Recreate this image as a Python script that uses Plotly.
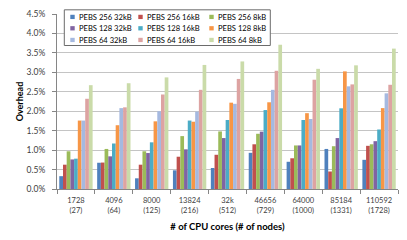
import plotly.graph_objects as go

cores = ["1728", "4096", "8000", "13824", "32k", "46656", "64000", "85184", "110592"]
nodes = ["27", "64", "125", "216", "512", "729", "1000", "1331", "1728"]
categories = [f"{c}<br>({n})" for c, n in zip(cores, nodes)]

series_names = [
    "PEBS 256 32kB", "PEBS 256 16kB", "PEBS 256 8kB",
    "PEBS 128 32kB", "PEBS 128 16kB", "PEBS 128 8kB",
    "PEBS 64 32kB", "PEBS 64 16kB", "PEBS 64 8kB",
]

# overhead in percent
pebs256_32 = [0.33, 0.675, 0.275, 0.48, 0.54, 0.93, 0.70, 1.03, 0.75]
pebs256_16 = [0.625, 0.68, 0.625, 0.83, 0.88, 1.15, 0.79, 0.45, 1.11]
pebs256_8 = [0.97, 1.03, 0.97, 1.36, 1.48, 1.42, 1.12, 1.10, 1.15]
pebs128_32 = [0.76, 0.84, 0.925, 1.02, 1.31, 1.475, 1.12, 1.31, 1.23]
pebs128_16 = [0.78, 1.17, 1.20, 1.76, 1.775, 2.03, 1.775, 2.075, 1.53]
pebs128_8 = [1.76, 1.64, 1.74, 1.73, 2.22, 2.23, 1.95, 3.025, 2.08]
pebs64_32 = [1.76, 2.08, 2.00, 1.99, 2.19, 2.55, 1.80, 2.64, 2.46]
pebs64_16 = [2.32, 2.10, 2.43, 2.55, 2.83, 3.04, 2.81, 2.69, 2.68]
pebs64_8 = [2.67, 2.72, 2.87, 3.19, 3.28, 3.71, 3.09, 3.18, 3.61]

series_values = [pebs256_32, pebs256_16, pebs256_8,
                 pebs128_32, pebs128_16, pebs128_8,
                 pebs64_32, pebs64_16, pebs64_8]

colors = ["#4F81BD", "#C0504D", "#9BBB59",
          "#8064A2", "#4BACC6", "#F79646",
          "#A5B9E0", "#DDA3A2", "#CADBA9"]

FONT = "Lato"
TXT = "#404040"

W, H = 407, 240
L, R, T, B = 57, 398, 9.3, 189.3


def px(x):
    return (x - L) / (R - L)


def py(y):
    return (B - y) / (B - T)


fig = go.Figure()
for name, vals, col in zip(series_names, series_values, colors):
    fig.add_trace(go.Bar(x=categories, y=vals, name=name, marker_color=col,
                         marker_line_width=0, showlegend=False))

# custom compact legend (Excel style)
col_x = [72.5, 140.5, 211.5]
row_y = [12.3, 24.0, 36.0]
shapes = [dict(type="rect", xref="paper", yref="paper",
               x0=px(64.3), x1=px(270.3), y0=py(41.7), y1=py(5),
               line=dict(color="#6b6b6b", width=1), fillcolor="white", layer="above")]
annotations = []
for i, (name, col) in enumerate(zip(series_names, colors)):
    cx = col_x[i % 3]
    cy = row_y[i // 3]
    shapes.append(dict(type="rect", xref="paper", yref="paper",
                       x0=px(cx - 2.2), x1=px(cx + 2.2), y0=py(cy + 2.2), y1=py(cy - 2.2),
                       line=dict(width=0), fillcolor=col, layer="above"))
    annotations.append(dict(xref="paper", yref="paper", x=px(cx + 4.0), y=py(cy),
                            xanchor="left", yanchor="middle", showarrow=False,
                            text=name, font=dict(family=FONT, size=7.6, color="#000000")))

fig.update_layout(
    width=W, height=H,
    margin=dict(l=L, r=W - R, t=T, b=H - B, pad=0),
    paper_bgcolor="white", plot_bgcolor="white",
    barmode="group", bargap=0.12, bargroupgap=0,
    font=dict(family=FONT, size=8, color=TXT),
    shapes=shapes, annotations=annotations,
    xaxis=dict(
        type="category",
        showline=True, linecolor="#868686", linewidth=1,
        ticks="outside", tickson="boundaries", ticklen=4, tickcolor="#868686",
        tickfont=dict(family=FONT, size=7.5, color=TXT),
        ticklabelstandoff=4,
        title=dict(text="<b># of CPU cores (# of nodes)</b>",
                   font=dict(family=FONT, size=9.5, color="#000000"), standoff=9),
        showgrid=False,
    ),
    yaxis=dict(
        range=[0, 4.5], dtick=0.5, tickformat=".1f", ticksuffix="%",
        showline=True, linecolor="#868686", linewidth=1,
        ticks="outside", ticklen=4, tickcolor="#868686",
        showgrid=True, gridcolor="#C4C4C4", gridwidth=1,
        zeroline=False,
        tickfont=dict(family=FONT, size=8.5, color=TXT),
        ticklabelstandoff=5,
        title=dict(text="<b>Overhead</b>",
                   font=dict(family=FONT, size=9, color="#000000"), standoff=1),
    ),
)

fig.write_html("out.html", config={"displayModeBar": False},
               post_script="document.body.style.margin='0';")
